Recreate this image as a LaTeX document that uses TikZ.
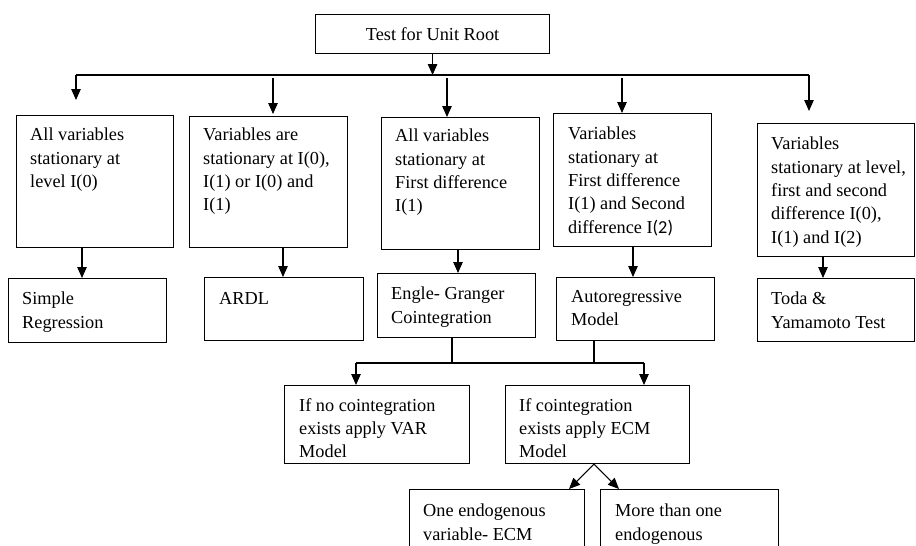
\documentclass[tikz,border=0pt]{standalone}
\usepackage{fontspec}
\setmainfont{Liberation Serif}
\newfontfamily\carlito{Carlito}
\usetikzlibrary{arrows.meta}
\begin{document}
\begin{tikzpicture}[x=1pt,y=-1pt,
  box/.style={draw, line width=1.1pt, anchor=north west, inner sep=0pt},
  txt/.style={anchor=north west, inner sep=0pt, align=left, font=\fontsize{18.3}{23.3}\selectfont},
  arr/.style={line width=1.1pt, -{Triangle[length=11pt,width=9.5pt]}},
  ln/.style={line width=1.1pt}]
\useasboundingbox (0,0) rectangle (916,546);
\clip (0,0) rectangle (916,546);
% top
\node[box, minimum width=234pt, minimum height=39pt] (top) at (315,14) {};
\node[anchor=center, inner sep=0pt, font=\fontsize{18.3}{23.3}\selectfont] (ttop) at (top.center) {Test for Unit Root};
% first row
\node[box, minimum width=157pt, minimum height=132pt] (b1) at (16,115) {};
\node[box, minimum width=158pt, minimum height=131pt] (b2) at (189,116) {};
\node[box, minimum width=158pt, minimum height=132pt] (b3) at (381,117) {};
\node[box, minimum width=158pt, minimum height=133pt] (b4) at (553,113) {};
\node[box, minimum width=157pt, minimum height=133pt] (b5) at (757,123) {};
\node[txt] (t1) at ([shift={(14,13)}]b1.north west) {All variables\\stationary at\\level I(0)};
\node[txt] (t2) at ([shift={(14,12)}]b2.north west) {Variables are\\stationary at I(0),\\I(1) or I(0) and\\I(1)};
\node[txt] (t3) at ([shift={(14,12)}]b3.north west) {All variables\\stationary at\\First difference\\I(1)};
\node[txt] (t4) at ([shift={(15,14)}]b4.north west) {Variables\\stationary at\\First difference\\I(1) and Second\\difference I{\carlito(2)}};
\node[txt] (t5) at ([shift={(14,14)}]b5.north west) {Variables\\stationary at level,\\first and second\\difference I(0),\\I(1) and I(2)};
% second row
\node[box, minimum width=158pt, minimum height=64pt] (c1) at (8,278) {};
\node[box, minimum width=159pt, minimum height=63pt] (c2) at (204,277) {};
\node[box, minimum width=158pt, minimum height=64pt] (c3) at (377,273) {};
\node[box, minimum width=158pt, minimum height=63pt] (c4) at (556,277) {};
\node[box, minimum width=157pt, minimum height=63pt] (c5) at (757,278) {};
\node[txt] (s1) at ([shift={(14,14)}]c1.north west) {Simple\\Regression};
\node[txt] (s2) at ([shift={(15,15)}]c2.north west) {ARDL};
\node[txt] (s3) at ([shift={(14,14)}]c3.north west) {Engle- Granger\\Cointegration};
\node[txt] (s4) at ([shift={(15,13)}]c4.north west) {Autoregressive\\Model};
\node[txt] (s5) at ([shift={(14,14)}]c5.north west) {Toda \&\\Yamamoto Test};
% third row
\node[box, minimum width=185pt, minimum height=78pt] (d1) at (284,385) {};
\node[box, minimum width=184pt, minimum height=78pt] (d2) at (505,385) {};
\node[txt] (u1) at ([shift={(15,13)}]d1.north west) {If no cointegration\\exists apply VAR\\Model};
\node[txt] (u2) at ([shift={(14,13)}]d2.north west) {If cointegration\\exists apply ECM\\Model};
% fourth row
\node[box, minimum width=175pt, minimum height=80pt] (e1) at (409,489) {};
\node[box, minimum width=178pt, minimum height=80pt] (e2) at (600,489) {};
\node[txt] (v1) at ([shift={(14,15)}]e1.north west) {One endogenous\\variable- ECM};
\node[txt] (v2) at ([shift={(15,15)}]e2.north west) {More than one\\endogenous};
% bus coordinates
\coordinate (busL) at (76,75);
\coordinate (busR) at (809,75);
\coordinate (busT) at (top.south |- busL);
\coordinate (mL) at (356,363);
\coordinate (mR) at (644,363);
% connectors
\draw[arr] (top.south) -- (busT);
\draw[ln] (busL) -- (busR);
\draw[arr] (busL) -- (76,100);
\draw[arr] (273,78) -- (273,114);
\draw[arr] (447,78) -- (b3.north -| 447,0);
\draw[arr] (622,78) -- (b4.north -| 622,0);
\draw[arr] (busR) -- (809,111);
\draw[arr] (b1.south -| 82,0) -- (c1.north -| 82,0);
\draw[arr] (b2.south -| 283,0) -- (c2.north -| 283,0);
\draw[arr] (b3.south -| 458,0) -- (c3.north -| 458,0);
\draw[arr] (b4.south -| 633,0) -- (c4.north -| 633,0);
\draw[arr] (b5.south -| 823,0) -- (c5.north -| 823,0);
\draw[ln] (c3.south -| 452,0) -- (452,363);
\draw[ln] (c4.south -| 594,0) -- (594,363);
\draw[ln] (mL) -- (mR);
\draw[arr] (mL) -- (d1.north -| mL);
\draw[arr] (mR) -- (d2.north -| mR);
\draw[arr] (d2.south -| 594,0) -- (e1.north -| 569,0);
\draw[arr] (d2.south -| 594,0) -- (e2.north -| 619,0);
\end{tikzpicture}
\end{document}
